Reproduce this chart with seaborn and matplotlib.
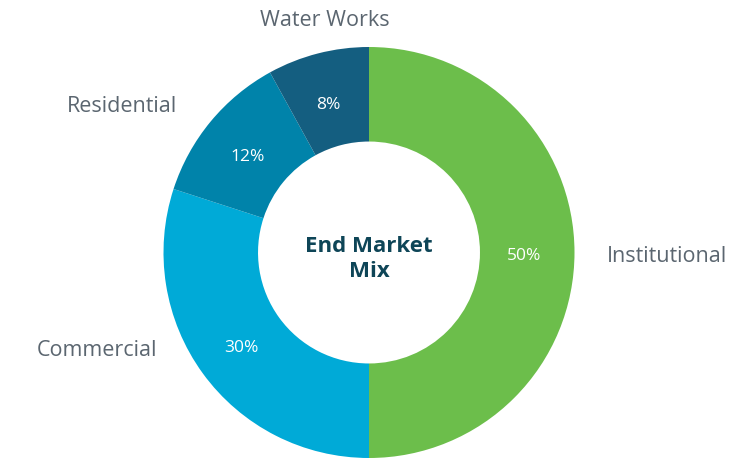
import matplotlib
matplotlib.use("Agg")
import matplotlib.pyplot as plt
import seaborn as sns

categories = ["Institutional", "Commercial", "Residential", "Water Works"]
shares = [50, 30, 12, 8]
colors = ["#6CBE4B", "#00AAD7", "#0083AA", "#145E80"]
center_title = "End Market\nMix"

sns.set_theme(style="white")
plt.rcParams['font.family'] = ['Open Sans', 'DejaVu Sans']
palette = sns.color_palette(colors)

W, H = 744, 459
fig = plt.figure(figsize=(W / 100, H / 100), dpi=100)
ax = fig.add_axes([0, 0, 1, 1])

R = 205.5  # outer radius in px
cx, cy = 369, 252.5

wedges, texts, autotexts = ax.pie(
    shares, colors=palette, startangle=90, counterclock=False,
    radius=1.0, pctdistance=0.76, autopct=lambda p: f"{p:.0f}%",
    wedgeprops=dict(width=0.46, edgecolor="none"),
    textprops=dict(color="white", fontsize=12.5),
)
for t in autotexts:
    x, y = t.get_position()
    t.set_position((x - 1.5 / R, y - 4 / R))

# outer category labels (pixel layout -> data units)
label_px = {"Institutional": (667, 256), "Commercial": (97, 351),
            "Residential": (122, 106), "Water Works": (325, 21)}
for name in categories:
    px, py = label_px[name]
    ax.text((px - cx) / R, (cy - py) / R, name, ha="center", va="center",
            fontsize=15.5, color="#5B6670")

ax.text(0, -0.03, center_title, ha="center", va="center", fontsize=16,
        fontweight="bold", color="#0E4557", linespacing=1.25)

ax.set_xlim(-cx / R, (W - cx) / R)
ax.set_ylim(-(H - cy) / R, cy / R)
ax.set_aspect("equal")
ax.axis("off")
fig.savefig("out.png", dpi=100, facecolor="white")
